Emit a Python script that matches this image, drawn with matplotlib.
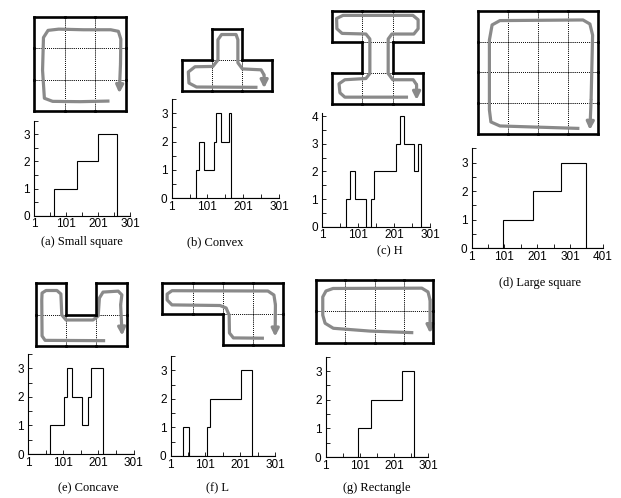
import matplotlib
matplotlib.use("Agg")
from matplotlib import pyplot as plt
from matplotlib.ticker import FixedLocator, MultipleLocator

W, H = 621, 498

#histogram data: bin edges and count between them
aEdges = [1, 64, 134, 200, 261, 301]
aCounts = [0, 1, 2, 3, 0]
bEdges = [1, 68, 77, 92, 118, 125, 138, 160, 168, 301]
bCounts = [0, 1, 2, 1, 2, 3, 2, 3, 0]
cEdges = [1, 67, 78, 92, 123, 136, 146, 207, 218, 229, 257, 268, 276, 301]
cCounts = [0, 1, 2, 1, 0, 1, 2, 3, 4, 3, 2, 3, 0]
dEdges = [1, 96, 187, 273, 351, 401]
dCounts = [0, 1, 2, 3, 0]
eEdges = [1, 63, 104, 113, 126, 155, 171, 180, 214, 301]
eCounts = [0, 1, 2, 3, 2, 1, 2, 3, 0]
fEdges = [1, 35, 53, 105, 114, 203, 236, 301]
fCounts = [0, 1, 0, 1, 2, 3, 0]
gEdges = [1, 96, 135, 225, 259, 301]
gCounts = [0, 1, 2, 3, 0]

labels = ["(a) Small square", "(b) Convex", "(c) H", "(d) Large square",
          "(e) Concave", "(f) L", "(g) Rectangle"]

#room shapes as unit cells (col, row), row 0 at the bottom
aCells = [(c, r) for c in range(3) for r in range(3)]
bCells = [(0, 0), (1, 0), (2, 0), (1, 1)]
cCells = [(0, 0), (1, 0), (2, 0), (1, 1), (0, 2), (1, 2), (2, 2)]
dCells = [(c, r) for c in range(4) for r in range(4)]
eCells = [(0, 0), (1, 0), (2, 0), (0, 1), (2, 1)]
fCells = [(2, 0), (3, 0), (0, 1), (1, 1), (2, 1), (3, 1)]
gCells = [(c, r) for c in range(4) for r in range(2)]

#walking paths (cell units), last point is the arrow tip
aPath = [(2.46, 0.31), (1.5, 0.29), (0.6, 0.3), (0.33, 0.4), (0.27, 1.3),
         (0.3, 2.35), (0.45, 2.58), (0.8, 2.62), (1.6, 2.6), (2.5, 2.6),
         (2.75, 2.55), (2.83, 2.3), (2.82, 1.5), (2.78, 0.56)]
bPath = [(2.51, 0.11), (0.49, 0.12), (0.24, 0.25), (0.22, 0.61), (0.44, 0.78),
         (1.03, 0.79), (1.2, 1.0), (1.2, 1.66), (1.32, 1.83), (1.8, 1.83),
         (1.86, 1.66), (1.86, 0.91), (2.01, 0.71), (2.63, 0.68), (2.73, 0.51),
         (2.73, 0.08)]
cPath = [(2.5, 0.22), (0.43, 0.22), (0.27, 0.36), (0.24, 0.65), (0.43, 0.78),
         (1.12, 0.82), (1.25, 0.98), (1.25, 2.09), (1.12, 2.25), (0.34, 2.27),
         (0.17, 2.42), (0.16, 2.75), (0.37, 2.85), (2.66, 2.85), (2.83, 2.71),
         (2.83, 2.42), (2.69, 2.25), (1.97, 2.25), (1.85, 2.09), (1.85, 0.98),
         (2.0, 0.78), (2.67, 0.78), (2.78, 0.62), (2.78, 0.13)]
dPath = [(3.39, 0.19), (0.74, 0.27), (0.44, 0.4), (0.39, 0.79), (0.39, 3.05),
         (0.48, 3.54), (0.74, 3.68), (3.51, 3.7), (3.74, 3.57), (3.83, 3.21),
         (3.78, 1.11), (3.74, 0.14)]
ePath = [(2.29, 0.17), (0.31, 0.18), (0.21, 0.32), (0.2, 1.47), (0.21, 1.69),
         (0.34, 1.77), (0.7, 1.77), (0.83, 1.66), (0.86, 0.99), (1.0, 0.83),
         (1.89, 0.83), (2.06, 0.96), (2.1, 1.53), (2.22, 1.72), (2.72, 1.75),
         (2.84, 1.63), (2.8, 1.31), (2.85, 0.33)]
fPath = [(3.36, 0.22), (2.35, 0.23), (2.22, 0.39), (2.21, 0.97), (2.11, 1.2),
         (1.91, 1.28), (0.32, 1.3), (0.16, 1.46), (0.16, 1.65), (0.32, 1.76),
         (3.49, 1.75), (3.69, 1.62), (3.74, 1.3), (3.73, 0.27)]
gPath = [(3.32, 0.32), (1.85, 0.37), (0.6, 0.46), (0.32, 0.62), (0.24, 0.88),
         (0.24, 1.46), (0.35, 1.65), (0.59, 1.73), (3.61, 1.74), (3.82, 1.62),
         (3.89, 1.36), (3.89, 0.3)]

#layout in pixels: room box (x0, x1, y0, y1, ncols, nrows),
#histogram axes (left, right, top, bottom, xmax, ytop), label centre
layout = [
    ((34.3, 126, 17.3, 110.7, 3, 3), (34, 130, 121, 215.5, 301, 3.5), (82, 242)),
    ((181.7, 272.3, 29.3, 90.7, 3, 2), (171.7, 279, 99, 198.3, 301, 3.5), (215, 242)),
    ((331.7, 423.3, 10.7, 104, 3, 3), (322.3, 430, 113.5, 226.7, 301, 4.1), (390, 251)),
    ((477.7, 597.7, 10.7, 134.3, 4, 4), (471.7, 602.7, 148.3, 248.3, 401, 3.5), (540, 283)),
    ((35.7, 126.7, 283.3, 346, 3, 2), (28, 133.5, 354, 454, 301, 3.5), (88, 488)),
    ((162.3, 283.3, 283.3, 345, 4, 2), (170.7, 275, 356, 456, 301, 3.5), (218, 488)),
    ((315.7, 433.3, 280, 342.7, 4, 2), (325.7, 428, 356.7, 457, 301, 3.5), (377, 488)),
]

allCells = [aCells, bCells, cCells, dCells, eCells, fCells, gCells]
allPaths = [aPath, bPath, cPath, dPath, ePath, fPath, gPath]
allEdges = [aEdges, bEdges, cEdges, dEdges, eEdges, fEdges, gEdges]
allCounts = [aCounts, bCounts, cCounts, dCounts, eCounts, fCounts, gCounts]

pathGray = "#8a8a8a"


def pxAxes(fig, left, right, top, bottom):
    return fig.add_axes([left / W, 1 - bottom / H, (right - left) / W, (bottom - top) / H])


def drawRoom(ax, cells, path):
    cellSet = set(cells)
    for (c, r) in cells:
        #left, right, bottom, top edge of this cell with its neighbour
        sides = [((c - 1, r), [c, c], [r, r + 1]),
                 ((c + 1, r), [c + 1, c + 1], [r, r + 1]),
                 ((c, r - 1), [c, c + 1], [r, r]),
                 ((c, r + 1), [c, c + 1], [r + 1, r + 1])]
        for nb, xs, ys in sides:
            if nb in cellSet:
                ax.plot(xs, ys, color="k", lw=0.6, ls=(0, (1, 1.5)), zorder=1)
            else:
                ax.plot(xs, ys, color="k", lw=1.9, solid_capstyle="projecting",
                        clip_on=False, zorder=3)
    xs = [p[0] for p in path]
    ys = [p[1] for p in path]
    ax.plot(xs[:-1], ys[:-1], color=pathGray, lw=2.3, solid_joinstyle="round",
            solid_capstyle="butt", zorder=2)
    ax.annotate("", xy=path[-1], xytext=path[-2],
                arrowprops=dict(arrowstyle="-|>", color=pathGray, lw=2.3,
                                mutation_scale=11, shrinkA=0, shrinkB=0), zorder=2)


def drawHist(ax, edges, counts, xmax, ytop):
    ax.stairs(counts, edges, baseline=None, color="k", lw=0.8)
    ax.set_xlim(1, xmax)
    ax.set_ylim(0, ytop)
    ax.spines["top"].set_visible(False)
    ax.spines["right"].set_visible(False)
    for s in ("left", "bottom"):
        ax.spines[s].set_linewidth(0.8)
    ax.xaxis.set_major_locator(FixedLocator(list(range(1, xmax + 1, 100))))
    ax.xaxis.set_minor_locator(FixedLocator(list(range(51, xmax, 100))))
    ax.yaxis.set_major_locator(MultipleLocator(1))
    ax.yaxis.set_minor_locator(MultipleLocator(0.5))
    ax.tick_params(which="both", direction="in", length=3, width=0.6)
    ax.tick_params(axis="x", pad=2, labelsize=8.5)
    ax.tick_params(axis="y", pad=3, labelsize=8.5)
    for t in ax.get_xticklabels() + ax.get_yticklabels():
        t.set_fontfamily("Liberation Sans")


fig = plt.figure(figsize=(W / 100, H / 100), dpi=100)

for i in range(7):
    room, hist, lab = layout[i]
    x0, x1, y0, y1, nc, nr = room
    rax = pxAxes(fig, x0, x1, y0, y1)
    rax.set_xlim(0, nc)
    rax.set_ylim(0, nr)
    rax.axis("off")
    drawRoom(rax, allCells[i], allPaths[i])

    left, right, top, bottom, xmax, ytop = hist
    hax = pxAxes(fig, left, right, top, bottom)
    drawHist(hax, allEdges[i], allCounts[i], xmax, ytop)

    fig.text(lab[0] / W, 1 - lab[1] / H, labels[i], ha="center", va="center",
             fontsize=9, fontfamily="Liberation Serif")

fig.savefig("out.png", dpi=100)
